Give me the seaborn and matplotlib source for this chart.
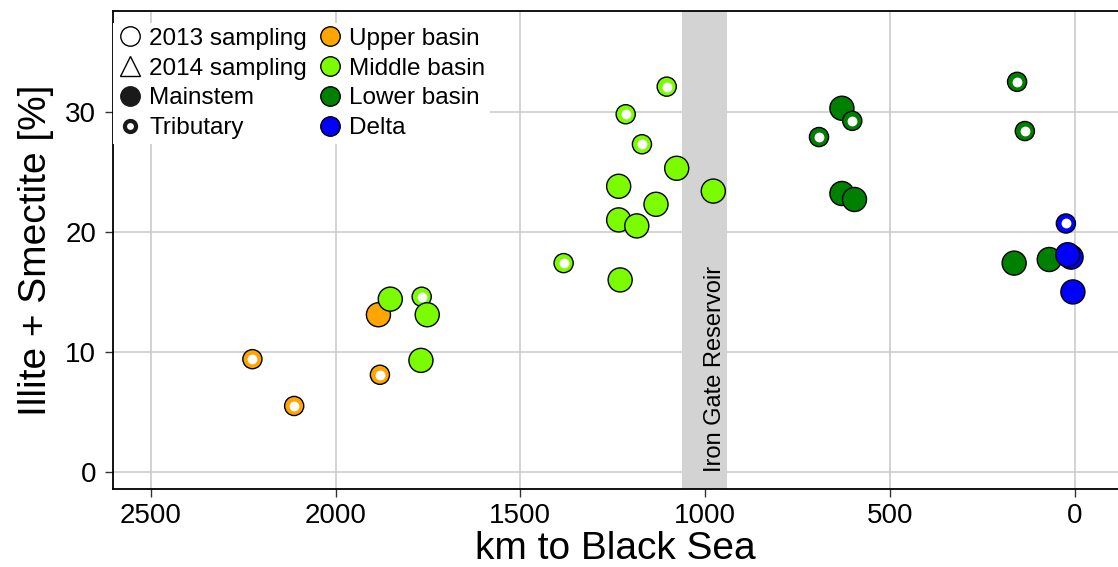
import numpy as np
import pandas as pd
import matplotlib
matplotlib.use("Agg")
import matplotlib.pyplot as plt
import seaborn as sns
from matplotlib.lines import Line2D

# ---- data -------------------------------------------------------------
km = [2225, 2112, 1884, 1880,
      1852, 1767, 1752, 1769, 1383, 1230, 1234, 1234, 1185, 1133, 1077, 978,
      1215, 1171, 1104,
      630, 602, 692, 630, 596, 156, 135, 164, 69,
      24, 10, 19, 5]
value = [9.4, 5.5, 13.1, 8.1,
         14.4, 14.6, 13.1, 9.3, 17.4, 16.0, 21.0, 23.8, 20.5, 22.3, 25.3, 23.4,
         29.8, 27.3, 32.1,
         30.3, 29.25, 27.9, 23.2, 22.7, 32.5, 28.4, 17.4, 17.7,
         20.7, 17.9, 18.1, 15.0]
region = (["Upper basin"] * 4 + ["Middle basin"] * 15 +
          ["Lower basin"] * 9 + ["Delta"] * 4)
site = ["Tributary", "Tributary", "Mainstem", "Tributary",
        "Mainstem", "Tributary", "Mainstem", "Mainstem", "Tributary",
        "Mainstem", "Mainstem", "Mainstem", "Mainstem", "Mainstem", "Mainstem",
        "Mainstem", "Tributary", "Tributary", "Tributary",
        "Mainstem", "Tributary", "Tributary", "Mainstem", "Mainstem",
        "Tributary", "Tributary", "Mainstem", "Mainstem",
        "Tributary", "Mainstem", "Mainstem", "Mainstem"]

regions = ["Upper basin", "Middle basin", "Lower basin", "Delta"]
region_colors = ["#FFA500", "#7CFC00", "#008000", "#0000FF"]
reservoir = (942, 1062)
x_ticks = [2500, 2000, 1500, 1000, 500, 0]
y_ticks = [0, 10, 20, 30]

df = pd.DataFrame({"km": km, "value": value, "region": region, "site": site})
palette = dict(zip(regions, region_colors))

# ---- figure -------------------------------------------------------------
sns.set_theme(style="white")
plt.rcParams["font.family"] = ["Liberation Sans", "DejaVu Sans"]
plt.rcParams["text.color"] = "black"
plt.rcParams["axes.labelcolor"] = "black"
plt.rcParams["xtick.labelcolor"] = "black"
plt.rcParams["ytick.labelcolor"] = "black"

fig = plt.figure(figsize=(11.18, 5.67), dpi=100)
ax = fig.add_axes([112.7 / 1118, 1 - 489.3 / 567, 1 - 112.7 / 1118,
                   (489.3 - 11) / 567])

ax.set_axisbelow(True)
ax.grid(True, color="#C8C8C8", linewidth=1.1)

ax.axvspan(*reservoir, color="#D3D3D3", lw=0, zorder=1)
ax.text(973, 0, "Iron Gate Reservoir", rotation=90, ha="center",
        va="bottom", fontsize=17, color="black", zorder=2)

sns.scatterplot(data=df, x="km", y="value", hue="region", palette=palette,
                size="site", sizes={"Mainstem": 300, "Tributary": 190},
                edgecolor="black", linewidth=1.0, legend=False, ax=ax,
                zorder=3)
trib = df[df["site"] == "Tributary"]
sns.scatterplot(data=trib, x="km", y="value", color="white", s=50,
                linewidth=0, legend=False, ax=ax, zorder=4)

ax.set_xlim(2603, -117)
ax.set_ylim(-1.44, 38.4)
ax.set_xticks(x_ticks)
ax.set_yticks(y_ticks)
ax.set_xticklabels([str(t) for t in x_ticks])
ax.set_yticklabels([str(t) for t in y_ticks])
ax.tick_params(axis="both", labelsize=20, length=6, width=1.0,
               color="#333333", labelcolor="black", direction="out")
ax.tick_params(axis="x", pad=4)
ax.tick_params(axis="y", pad=6)
ax.tick_params(left=True, bottom=True)

for s in ["left", "top", "bottom"]:
    ax.spines[s].set_color("black")
    ax.spines[s].set_linewidth(1.3)
ax.spines["right"].set_visible(False)

ax.set_xlabel("km to Black Sea", fontsize=28, labelpad=1, color="black")
ax.set_ylabel("Illite + Smectite [%]", fontsize=28, labelpad=8, color="black")

# ---- legend -------------------------------------------------------------
ms = 14
handles = [
    Line2D([], [], ls="", marker="o", ms=ms, mfc="white", mec="black", mew=1.0),
    Line2D([], [], ls="", marker="^", ms=ms, mfc="white", mec="black", mew=1.0),
    Line2D([], [], ls="", marker="o", ms=ms, mfc="#1A1A1A", mec="#1A1A1A", mew=1.0),
    Line2D([], [], ls="", marker="o", ms=8, mfc="white", mec="#1A1A1A", mew=3.0),
]
labels = ["2013 sampling", "2014 sampling", "Mainstem", "Tributary"]
for r, c in zip(regions, region_colors):
    handles.append(Line2D([], [], ls="", marker="o", ms=ms, mfc=c,
                          mec="black", mew=1.0))
    labels.append(r)

leg = ax.legend(handles, labels, ncol=2, loc="upper left",
                bbox_to_anchor=(0, 1 - 12 / 478), borderaxespad=0,
                fontsize=17.5, frameon=True, fancybox=False, framealpha=1,
                facecolor="white", edgecolor="none", handlelength=1.0,
                handletextpad=0.3, columnspacing=0.45, labelspacing=0.32,
                borderpad=0.2)
for t in leg.get_texts():
    t.set_color("black")
leg.set_zorder(5)

fig.savefig("out.png", dpi=100)
